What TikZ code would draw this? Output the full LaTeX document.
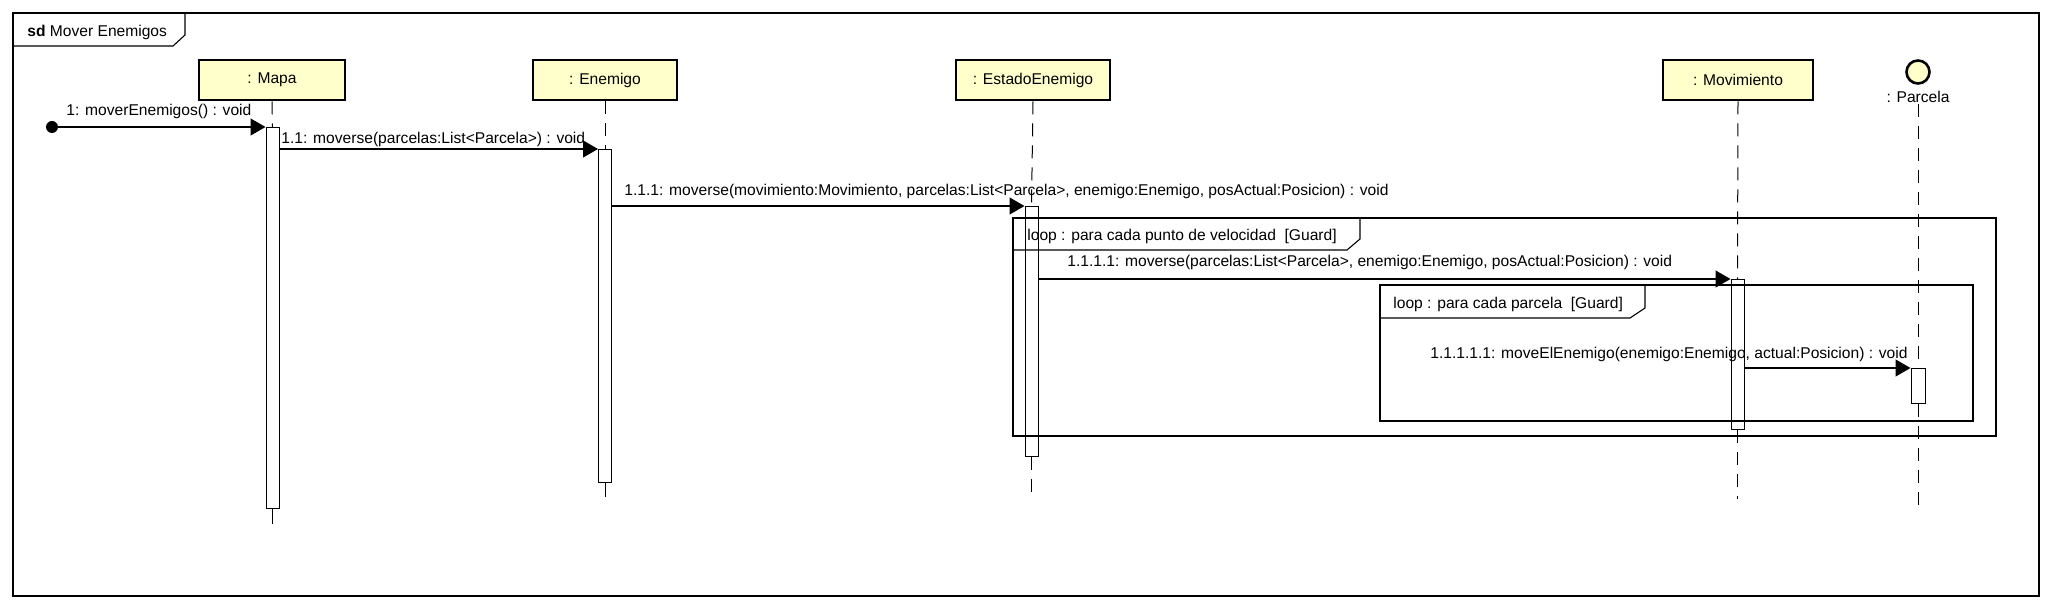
\documentclass[tikz,border=0pt]{standalone}
\usepackage{fontspec}
\setmainfont{Liberation Sans}
\usetikzlibrary{arrows.meta}
\definecolor{objfill}{RGB}{255,255,204}
\tikzset{
  obj/.style={draw=black, line width=1.3pt, fill=objfill, minimum height=20pt, inner sep=0pt, font=\fontsize{7.8pt}{9pt}\selectfont},
  act/.style={draw=black, line width=0.5pt, fill=white, minimum width=6.5pt, inner sep=0pt, anchor=north},
  life/.style={line width=0.5pt, dash pattern=on 6.5pt off 4.5pt},
  msg/.style={line width=0.6pt, -{Triangle[length=7.5pt,width=8.5pt]}},
  txt/.style={font=\fontsize{7.8pt}{9pt}\selectfont, inner sep=0pt, anchor=base west},
  frm/.style={line width=0.55pt}
}
\begin{document}
\begin{tikzpicture}[x=0.5pt,y=-0.5pt]
\useasboundingbox (0,0) rectangle (2053,609);
% objects
\node[obj, minimum width=73pt] (M) at (272,80) {: Mapa};
\node[obj, minimum width=72pt] (E) at (605,80) {: Enemigo};
\node[obj, minimum width=77pt] (S) at (1033,80) {: EstadoEnemigo};
\node[obj, minimum width=75pt] (V) at (1738,80) {: Movimiento};
\node[circle, draw=black, line width=1.3pt, fill=objfill, minimum size=11.5pt, inner sep=0pt] (P) at (1918,72) {};
\node[txt, anchor=base] (tP) at (1918,103) {: Parcela};
% activations
\node[act, minimum height=190.5pt] (aM) at (272.5,127) {};
\node[act, minimum height=166.5pt] (aE) at (605,149) {};
\node[act, minimum height=125pt] (aS) at (1031.5,206) {};
\node[act, minimum height=75pt] (aV) at (1737.5,279) {};
\node[act, minimum height=17.5pt, minimum width=7pt] (aP) at (1918,368) {};
% message labels
\node[txt] (t1) at (66,116) {1: moverEnemigos() : void};
\node[txt] (t2) at (281,144) {1.1: moverse(parcelas:List<Parcela>) : void};
\node[txt] (t3) at (624,196) {1.1.1: moverse(movimiento:Movimiento, parcelas:List<Parcela>, enemigo:Enemigo, posActual:Posicion) : void};
\node[txt] (t4) at (1067,267) {1.1.1.1: moverse(parcelas:List<Parcela>, enemigo:Enemigo, posActual:Posicion) : void};
\node[txt] (t5) at (1430,359) {1.1.1.1.1: moveElEnemigo(enemigo:Enemigo, actual:Posicion) : void};
% lifelines
\coordinate (eM) at (272.5,524);
\coordinate (eE) at (605,497);
\coordinate (eS) at (1031.5,499);
\coordinate (eV) at (1737.5,499);
\coordinate (eP) at (1918,505);
\foreach \o/\a in {M/aM,E/aE,S/aS,V/aV}
  \draw[life] (\o.south) -- (\a.north);
\draw[life] (tP.south) -- (aP.north);
\draw[line width=0.5pt] (aM.south) -- (eM);
\draw[line width=0.5pt] (aE.south) -- (eE);
\foreach \a/\e in {aS/eS,aV/eV,aP/eP}
  \draw[life] (\a.south) -- (\e);
% frames
\draw[frm] (13,13) rectangle (2039,596);
\draw[frm] (13,46) -- (173,46) -- (185,35) -- (185,13);
\node[txt] (sd) at (27,37) {\textbf{sd} Mover Enemigos};
\draw[frm] (1013,218) rectangle (1996,436);
\draw[frm] (1013,250) -- (1347,250) -- (1360,239) -- (1360,218);
\node[txt] (l1) at (1027,241) {loop : para cada punto de velocidad\ \ [Guard]};
\draw[frm] (1380,285) rectangle (1973,421);
\draw[frm] (1380,318) -- (1630,318) -- (1645,308) -- (1645,285);
\node[txt] (l2) at (1393,309) {loop : para cada parcela\ \ [Guard]};
% messages
\node[circle, fill=black, minimum size=6pt, inner sep=0pt] (s) at (52,127) {};
\draw[msg] (s) -- (aM.north west);
\draw[msg] (aM.north east |- aE.north) -- (aE.north west);
\draw[msg] (aE.east |- aS.north) -- (aS.north west);
\draw[msg] (aS.east |- aV.north) -- (aV.north west);
\draw[msg] (aV.east |- aP.north) -- (aP.north west);
\end{tikzpicture}
\end{document}
